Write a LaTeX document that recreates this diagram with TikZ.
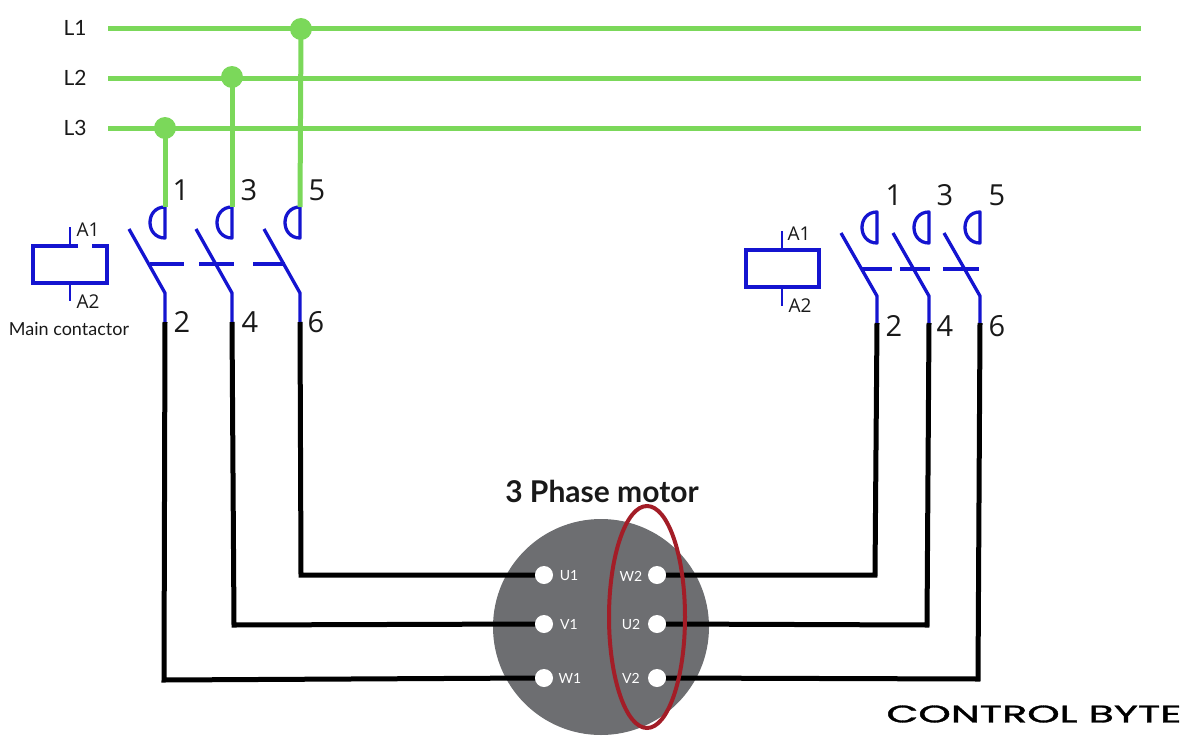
\documentclass[tikz,border=0pt]{standalone}
\usepackage{fontspec}
\usetikzlibrary{shapes.geometric}
\setmainfont{Lato}
\newfontfamily\numfont{Open Sans}
\newfontfamily\logofont[FakeBold=1.2]{Poppins}
\definecolor{gr}{HTML}{7BD85A}
\definecolor{bl}{HTML}{1414D0}
\definecolor{mot}{HTML}{6D6E71}
\definecolor{rd}{HTML}{A31D27}
\tikzset{
  bus/.style={draw=gr,line width=5},
  dot/.style={circle,fill=gr,minimum size=22,inner sep=0},
  sym/.style={draw=bl,line width=3.3},
  wire/.style={draw=black,line width=5,line join=miter},
  term/.style={circle,fill=white,minimum size=18,inner sep=0},
  tl/.style={text=white,font=\fontsize{14}{14}\selectfont,inner sep=0},
  num/.style={font=\numfont\fontsize{29}{29}\selectfont,inner sep=0,text=black!90},
  al/.style={font=\numfont\fontsize{19}{19}\selectfont,inner sep=0,text=black!90},
  ll/.style={font=\fontsize{21}{21}\selectfont,inner sep=0,text=black!90}
}
% pole: #1 x, #2 y of D top, #3 name, #4 blade top y, #5 blade knee y, #6 bottom y
\newcommand{\polesym}[6]{%
  \coordinate (#3top) at (#1,#2);
  \coordinate (#3bot) at (#1,#6);
  \draw[sym,line join=round] (#3top) -- (#1,#2+31) .. controls (#1-20,#2+31) and (#1-20,#2) .. (#3top) -- cycle;
  \draw[sym,line join=round] (#1-36,#4) -- (#1,#5) -- (#3bot);
}
\begin{document}
\begin{tikzpicture}[x=1pt,y=-1pt]
\useasboundingbox (0,0) rectangle (1200,750);
% bus
\coordinate (l1a) at (108,28); \coordinate (l1b) at (1141,28);
\coordinate (l2a) at (108,78); \coordinate (l2b) at (1141,78);
\coordinate (l3a) at (108,128); \coordinate (l3b) at (1141,128);
\draw[bus] (l1a) -- (l1b);
\draw[bus] (l2a) -- (l2b);
\draw[bus] (l3a) -- (l3b);
\node[ll] (L1) at (75,28) {L1};
\node[ll] (L2) at (75,78) {L2};
\node[ll] (L3) at (75,128) {L3};
\node[dot] (d1) at (301,29) {};
\node[dot] (d2) at (232,77) {};
\node[dot] (d3) at (165,128) {};
% left poles
\polesym{165}{207}{a}{229}{293}{322}
\polesym{232}{207}{b}{229}{293}{322}
\polesym{300}{207}{c}{229}{293}{322}
\draw[bus] (d3.center) -- (atop);
\draw[bus] (d2.center) -- (btop);
\draw[bus] (d1.center) -- (ctop);
\draw[sym] (150,264) -- (184,264);
\draw[sym] (199,264) -- (234,264);
\draw[sym] (253,264) -- (285,264);
\node[num] at (181,190) {1};
\node[num] at (249,190) {3};
\node[num] at (317,190) {5};
\node[num] at (182,322) {2};
\node[num] at (250,322) {4};
\node[num] at (316,322) {6};
% left coil
\draw[sym] (78,246) -- (33,246) -- (33,283) -- (107,283) -- (107,246) -- (92,246);
\draw[sym,line width=2.5] (70,227) -- (70,246);
\draw[sym,line width=2.5] (70,283) -- (70,301);
\node[al] at (88,230) {A1};
\node[al] at (88,302) {A2};
\node[font=\fontsize{18}{18}\selectfont,inner sep=0,text=black!90] at (69,329) {Main contactor};
% right poles
\polesym{877}{212}{d}{233}{296}{323}
\polesym{929}{212}{e}{233}{296}{323}
\polesym{980}{212}{f}{233}{296}{323}
\draw[sym] (862,269) -- (892,269);
\draw[sym] (900,269) -- (930,269);
\draw[sym] (943,269) -- (979,269);
\node[num] at (894,195) {1};
\node[num] at (945,195) {3};
\node[num] at (997,195) {5};
\node[num] at (894,326) {2};
\node[num] at (945,326) {4};
\node[num] at (997,326) {6};
% right coil
\draw[sym] (746,250) rectangle (819,287);
\draw[sym,line width=2.5] (782,231) -- (782,250);
\draw[sym,line width=2.5] (782,287) -- (782,306);
\node[al] at (799,234) {A1};
\node[al] at (800,306) {A2};
% motor
\node[font=\bfseries\fontsize{30}{30}\selectfont,inner sep=0,text=black!90] at (602,491) {3 Phase motor};
\node[circle,fill=mot,minimum size=216,inner sep=0] (motor) at (601,627) {};
\node[term] (U1) at (544,575) {};
\node[term] (V1) at (544,624) {};
\node[term] (W1) at (544,678) {};
\node[term] (W2) at (657,575) {};
\node[term] (U2) at (657,624) {};
\node[term] (V2) at (657,678) {};
\node[tl] at (569,576) {U1};
\node[tl] at (569,624) {V1};
\node[tl] at (570,678) {W1};
\node[tl] at (631,576) {W2};
\node[tl] at (631,624) {U2};
\node[tl] at (631,678) {V2};
% wires
\coordinate (ak) at (164,680); \coordinate (bk) at (234,625); \coordinate (ck) at (301,575);
\coordinate (dk) at (875,575); \coordinate (ek) at (927,625); \coordinate (fk) at (978,679);
\draw[wire] (abot) -- (ak) -- (W1.west);
\draw[wire] (bbot) -- (bk) -- (V1.west);
\draw[wire] (cbot) -- (ck) -- (U1.west);
\draw[wire] (dbot) -- (dk) -- (W2.east);
\draw[wire] (ebot) -- (ek) -- (U2.east);
\draw[wire] (fbot) -- (fk) -- (V2.east);
% red ellipse
\node[ellipse,draw=rd,line width=4,minimum width=76,minimum height=222,inner sep=0] (ring) at (647,617) {};
% logo
\node[inner sep=0,text=black] (logo) at (1034,714) {\logofont\fontsize{24}{24}\selectfont\scalebox{1.72}[1]{CONTROL BYTE}};
\end{tikzpicture}
\end{document}
